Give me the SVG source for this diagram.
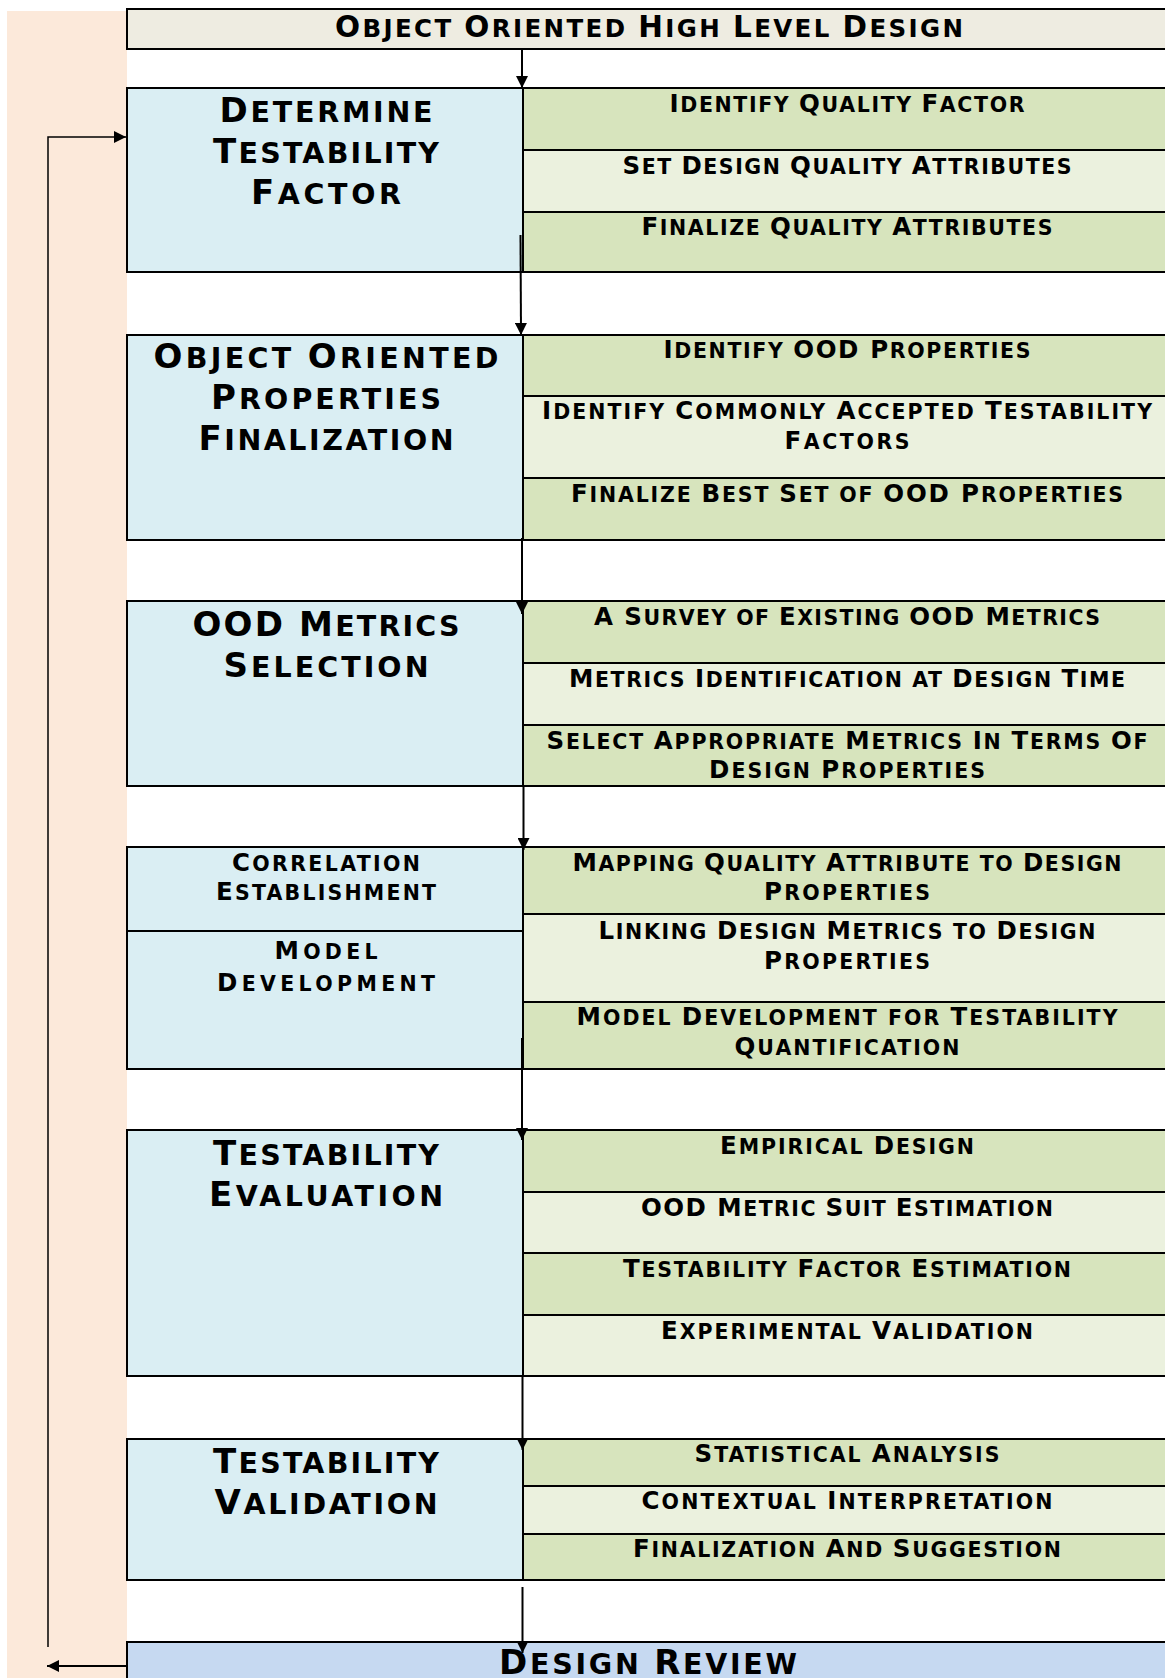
<svg xmlns="http://www.w3.org/2000/svg" width="1165" height="1678" viewBox="0 0 1165 1678">
<style>
.bg{fill:#FCE9DA}
.tb{fill:#EEECE1;stroke:#000;stroke-width:2}
.lb{fill:#DAEEF3;stroke:#000;stroke-width:2}
.g1{fill:#D7E4BD;stroke:#000;stroke-width:2}
.g2{fill:#EBF1DE;stroke:#000;stroke-width:2}
.dr{fill:#C6D9F1;stroke:#000;stroke-width:2}
.ln{stroke:#000;stroke-width:2;fill:none}
.t{font-family:'DejaVu Sans','Liberation Sans',sans-serif;font-weight:bold;text-transform:uppercase;text-anchor:middle;fill:#000}
.r{font-size:20.5px}
.r .C{font-size:24.5px}
.h{font-size:28.5px}
.h .C{font-size:34px}
.ti{font-size:24.5px}
.ti .C{font-size:29.5px}
</style>
<defs>
<marker id="ah" viewBox="0 0 12 12" refX="12" refY="6" markerWidth="13" markerHeight="12" markerUnits="userSpaceOnUse" orient="auto">
<path d="M0,0 L12,6 L0,12 z" fill="#000"/>
</marker>
</defs>
<rect class="bg" x="7" y="11" width="120" height="1667"/>

<g id="top">
<rect class="tb" x="127" y="9" width="1060" height="40"/>
<text class="t ti" x="649" y="37" textLength="628"><tspan class="C">O</tspan>bject <tspan class="C">O</tspan>riented <tspan class="C">H</tspan>igh <tspan class="C">L</tspan>evel <tspan class="C">D</tspan>esign</text>
</g>

<g id="block1">
<rect class="lb" x="127" y="88" width="396" height="184"/>
<rect class="g1" x="523" y="88" width="660" height="62"/>
<rect class="g2" x="523" y="150" width="660" height="62"/>
<rect class="g1" x="523" y="212" width="660" height="60"/>
<text class="t h" x="326" y="122" textLength="213"><tspan class="C">D</tspan>etermine</text>
<text class="t h" x="326" y="163" textLength="226"><tspan class="C">T</tspan>estability</text>
<text class="t h" x="326" y="204" textLength="150"><tspan class="C">F</tspan>actor</text>
<text class="t r" x="847" y="112" textLength="355"><tspan class="C">I</tspan>dentify <tspan class="C">Q</tspan>uality <tspan class="C">F</tspan>actor</text>
<text class="t r" x="847" y="174" textLength="449"><tspan class="C">S</tspan>et <tspan class="C">D</tspan>esign <tspan class="C">Q</tspan>uality <tspan class="C">A</tspan>ttributes</text>
<text class="t r" x="847" y="235" textLength="411"><tspan class="C">F</tspan>inalize <tspan class="C">Q</tspan>uality <tspan class="C">A</tspan>ttributes</text>
</g>

<g id="block2">
<rect class="lb" x="127" y="335" width="396" height="205"/>
<rect class="g1" x="523" y="335" width="660" height="61"/>
<rect class="g2" x="523" y="396" width="660" height="82"/>
<rect class="g1" x="523" y="478" width="660" height="62"/>
<text class="t h" x="326" y="368" textLength="345"><tspan class="C">O</tspan>bject <tspan class="C">O</tspan>riented</text>
<text class="t h" x="326" y="409" textLength="230"><tspan class="C">P</tspan>roperties</text>
<text class="t h" x="326" y="450" textLength="255"><tspan class="C">F</tspan>inalization</text>
<text class="t r" x="847" y="358" textLength="367"><tspan class="C">I</tspan>dentify <tspan class="C">OOD P</tspan>roperties</text>
<text class="t r" x="847" y="419" textLength="610"><tspan class="C">I</tspan>dentify <tspan class="C">C</tspan>ommonly <tspan class="C">A</tspan>ccepted <tspan class="C">T</tspan>estability</text>
<text class="t r" x="847" y="449" textLength="125"><tspan class="C">F</tspan>actors</text>
<text class="t r" x="847" y="502" textLength="552"><tspan class="C">F</tspan>inalize <tspan class="C">B</tspan>est <tspan class="C">S</tspan>et of <tspan class="C">OOD P</tspan>roperties</text>
</g>

<g id="block3">
<rect class="lb" x="127" y="601" width="396" height="185"/>
<rect class="g1" x="523" y="601" width="660" height="62"/>
<rect class="g2" x="523" y="663" width="660" height="62"/>
<rect class="g1" x="523" y="725" width="660" height="61"/>
<text class="t h" x="326" y="636" textLength="267"><tspan class="C">OOD M</tspan>etrics</text>
<text class="t h" x="326" y="677" textLength="205"><tspan class="C">S</tspan>election</text>
<text class="t r" x="847" y="625" textLength="506"><tspan class="C">A S</tspan>urvey of <tspan class="C">E</tspan>xisting <tspan class="C">OOD M</tspan>etrics</text>
<text class="t r" x="847" y="687" textLength="556"><tspan class="C">M</tspan>etrics <tspan class="C">I</tspan>dentification at <tspan class="C">D</tspan>esign <tspan class="C">T</tspan>ime</text>
<text class="t r" x="847" y="749" textLength="601"><tspan class="C">S</tspan>elect <tspan class="C">A</tspan>ppropriate <tspan class="C">M</tspan>etrics <tspan class="C">I</tspan>n <tspan class="C">T</tspan>erms <tspan class="C">O</tspan>f</text>
<text class="t r" x="847" y="778" textLength="276"><tspan class="C">D</tspan>esign <tspan class="C">P</tspan>roperties</text>
</g>

<g id="block4">
<rect class="lb" x="127" y="847" width="396" height="84"/>
<rect class="lb" x="127" y="931" width="396" height="138"/>
<rect class="g1" x="523" y="847" width="660" height="67"/>
<rect class="g2" x="523" y="914" width="660" height="88"/>
<rect class="g1" x="523" y="1002" width="660" height="67"/>
<text class="t r" x="326" y="871" textLength="188"><tspan class="C">C</tspan>orrelation</text>
<text class="t r" x="326" y="900" textLength="220"><tspan class="C">E</tspan>stablishment</text>
<text class="t r" x="326" y="959" textLength="103"><tspan class="C">M</tspan>odel</text>
<text class="t r" x="326" y="991" textLength="218"><tspan class="C">D</tspan>evelopment</text>
<text class="t r" x="847" y="871" textLength="549"><tspan class="C">M</tspan>apping <tspan class="C">Q</tspan>uality <tspan class="C">A</tspan>ttribute to <tspan class="C">D</tspan>esign</text>
<text class="t r" x="847" y="900" textLength="166"><tspan class="C">P</tspan>roperties</text>
<text class="t r" x="847" y="939" textLength="497"><tspan class="C">L</tspan>inking <tspan class="C">D</tspan>esign <tspan class="C">M</tspan>etrics to <tspan class="C">D</tspan>esign</text>
<text class="t r" x="847" y="969" textLength="166"><tspan class="C">P</tspan>roperties</text>
<text class="t r" x="847" y="1025" textLength="541"><tspan class="C">M</tspan>odel <tspan class="C">D</tspan>evelopment for <tspan class="C">T</tspan>estability</text>
<text class="t r" x="847" y="1055" textLength="225"><tspan class="C">Q</tspan>uantification</text>
</g>

<g id="block5">
<rect class="lb" x="127" y="1130" width="396" height="246"/>
<rect class="g1" x="523" y="1130" width="660" height="62"/>
<rect class="g2" x="523" y="1192" width="660" height="61"/>
<rect class="g1" x="523" y="1253" width="660" height="62"/>
<rect class="g2" x="523" y="1315" width="660" height="61"/>
<text class="t h" x="326" y="1165" textLength="226"><tspan class="C">T</tspan>estability</text>
<text class="t h" x="326" y="1206" textLength="234"><tspan class="C">E</tspan>valuation</text>
<text class="t r" x="847" y="1154" textLength="254"><tspan class="C">E</tspan>mpirical <tspan class="C">D</tspan>esign</text>
<text class="t r" x="847" y="1216" textLength="412"><tspan class="C">OOD M</tspan>etric <tspan class="C">S</tspan>uit <tspan class="C">E</tspan>stimation</text>
<text class="t r" x="847" y="1277" textLength="448"><tspan class="C">T</tspan>estability <tspan class="C">F</tspan>actor <tspan class="C">E</tspan>stimation</text>
<text class="t r" x="847" y="1339" textLength="372"><tspan class="C">E</tspan>xperimental <tspan class="C">V</tspan>alidation</text>
</g>

<g id="block6">
<rect class="lb" x="127" y="1439" width="396" height="141"/>
<rect class="g1" x="523" y="1439" width="660" height="47"/>
<rect class="g2" x="523" y="1486" width="660" height="48"/>
<rect class="g1" x="523" y="1534" width="660" height="46"/>
<text class="t h" x="326" y="1473" textLength="226"><tspan class="C">T</tspan>estability</text>
<text class="t h" x="326" y="1514" textLength="223"><tspan class="C">V</tspan>alidation</text>
<text class="t r" x="847" y="1462" textLength="305"><tspan class="C">S</tspan>tatistical <tspan class="C">A</tspan>nalysis</text>
<text class="t r" x="847" y="1509" textLength="411"><tspan class="C">C</tspan>ontextual <tspan class="C">I</tspan>nterpretation</text>
<text class="t r" x="847" y="1557" textLength="428"><tspan class="C">F</tspan>inalization <tspan class="C">A</tspan>nd <tspan class="C">S</tspan>uggestion</text>
</g>

<g id="review">
<rect class="dr" x="127" y="1642" width="1060" height="50"/>
<text class="t h" x="648" y="1674" textLength="298"><tspan class="C">D</tspan>esign <tspan class="C">R</tspan>eview</text>
</g>

<g id="connectors">
<line class="ln" x1="522" y1="49" x2="522" y2="88" marker-end="url(#ah)"/>
<line class="ln" x1="520.5" y1="235" x2="521" y2="335" marker-end="url(#ah)"/>
<line class="ln" x1="522" y1="538" x2="522" y2="614" marker-end="url(#ah)"/>
<line class="ln" x1="523.5" y1="786" x2="523.5" y2="850" marker-end="url(#ah)"/>
<line class="ln" x1="522" y1="1038" x2="522" y2="1140" marker-end="url(#ah)"/>
<line class="ln" x1="522.5" y1="1376" x2="522.5" y2="1450" marker-end="url(#ah)"/>
<line class="ln" x1="522.5" y1="1587" x2="522.5" y2="1653" marker-end="url(#ah)"/>
<polyline class="ln" style="stroke-width:1.5" points="48,1647 48,137 126,137" marker-end="url(#ah)"/>
<line class="ln" x1="128" y1="1666" x2="47" y2="1666" marker-end="url(#ah)"/>
</g>
</svg>
